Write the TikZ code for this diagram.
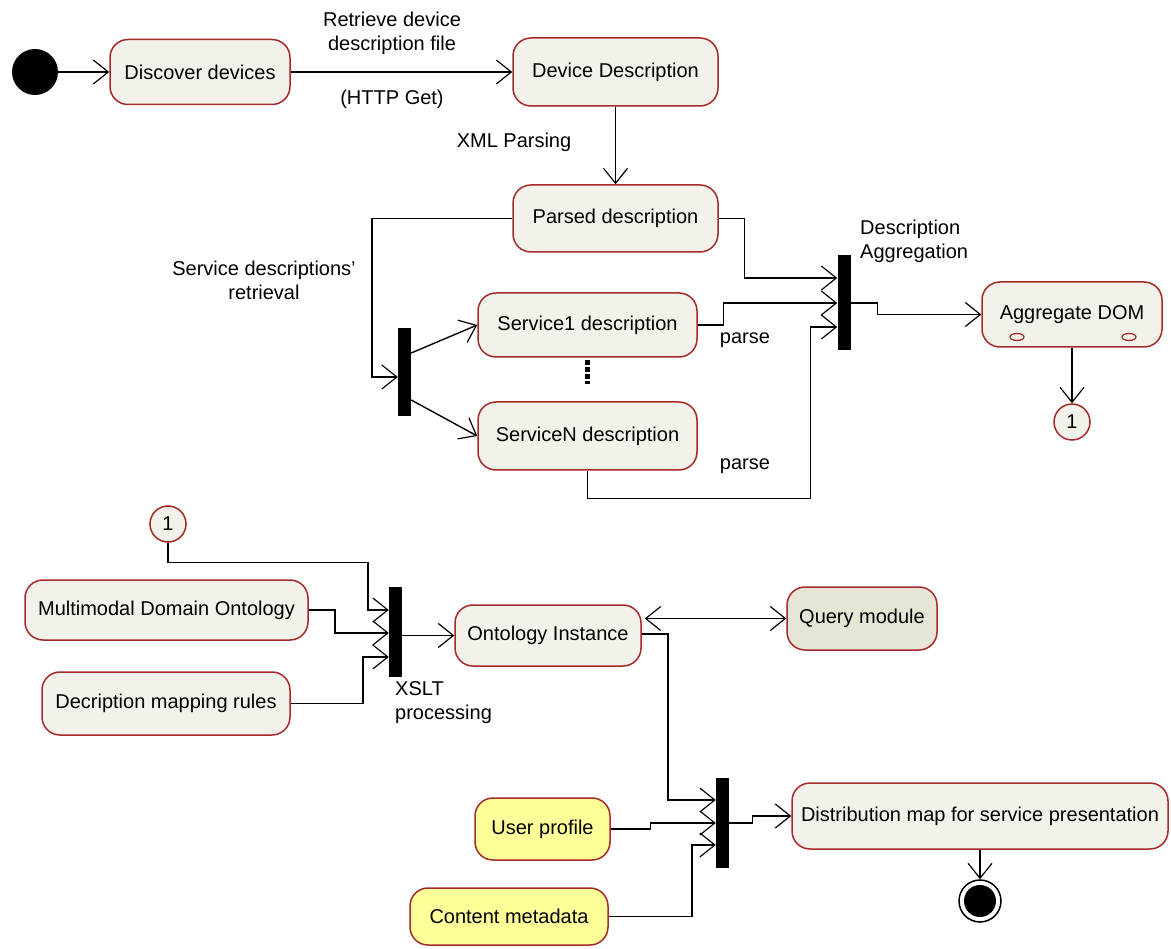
\documentclass[tikz,border=0pt]{standalone}
\usepackage{fontspec}
\setmainfont{Liberation Sans}
\usetikzlibrary{arrows.meta,calc}
\definecolor{boxfill}{HTML}{F3F2EA}
\definecolor{boxline}{HTML}{A52A2A}
\definecolor{qfill}{HTML}{E7E5D6}
\definecolor{yfill}{HTML}{FFFF99}
\begin{document}
\begin{tikzpicture}[x=1pt,y=-1pt,
  font=\fontsize{20}{24}\selectfont,
  state/.style={draw=boxline,fill=boxfill,line width=1.5pt,rounded corners=18pt,inner sep=0pt},
  ystate/.style={state,fill=yfill},
  qstate/.style={state,fill=qfill},
  barnode/.style={fill=black,draw=none,minimum width=13pt,inner sep=0pt},
  conn/.style={circle,draw=boxline,fill=boxfill,line width=1.5pt,minimum size=36pt,inner sep=0pt},
  arr/.style={line width=1.4pt,-{Straight Barb[length=15pt,width=24pt,line width=1.2pt]}},
  darr/.style={line width=1.4pt,{Straight Barb[length=15pt,width=24pt,line width=1.2pt]}-{Straight Barb[length=15pt,width=24pt,line width=1.2pt]}},
  lbl/.style={inner sep=0pt}]
\useasboundingbox (0,0) rectangle (1171,949);

% nodes
\node[circle,fill=black,minimum size=46pt,inner sep=0pt] (start) at (35,72) {};
\node[state,minimum width=180pt,minimum height=65pt] (disc) at (200,72) {Discover devices};
\node[state,minimum width=205pt,minimum height=68pt] (devdesc) at (615.5,72) {Device Description};
\node[state,minimum width=205pt,minimum height=67pt] (parsed) at (615.5,218.5) {Parsed description};
\node[state,minimum width=219pt,minimum height=64pt] (serv1) at (587.5,325) {Service1 description};
\node[state,minimum width=219pt,minimum height=68pt] (servN) at (587.5,436) {ServiceN description};
\node[state,minimum width=180pt,minimum height=65pt] (agg) at (1072,314.5) {Aggregate DOM};
\node[conn] (c1) at (1072,422) {1};
\node[barnode,minimum height=88pt] (bar1) at (404.5,372) {};
\node[barnode,minimum height=95pt] (bar2) at (844,302.5) {};

\node[conn] (c2) at (168,524) {1};
\node[state,minimum width=283pt,minimum height=60pt] (multi) at (166.5,610) {Multimodal Domain Ontology};
\node[state,minimum width=248pt,minimum height=63pt] (mapping) at (166,703.5) {Decription mapping rules};
\node[barnode,minimum height=90pt] (bar3) at (395.5,632) {};
\node[state,minimum width=186pt,minimum height=61pt] (onto) at (548,635.5) {Ontology Instance};
\node[qstate,minimum width=150pt,minimum height=63pt] (query) at (862,618.5) {Query module};
\node[barnode,minimum height=90pt] (bar4) at (722.5,823) {};
\node[state,minimum width=376pt,minimum height=66pt] (dist) at (980,816) {Distribution map for service presentation};
\node[ystate,minimum width=135pt,minimum height=62pt] (user) at (542.5,829) {User profile};
\node[ystate,minimum width=198pt,minimum height=57pt] (content) at (509,916.5) {Content metadata};
\node[circle,draw=black,fill=white,line width=1.5pt,minimum size=42pt,inner sep=0pt] (end) at (980,901) {};
\fill[black] (end.center) circle (16);

% small ovals in Aggregate DOM
\draw[boxline,fill=boxfill,line width=1.2pt] (1017,337) ellipse (7 and 3.5);
\draw[boxline,fill=boxfill,line width=1.2pt] (1129,337) ellipse (7 and 3.5);

% dotted mark between services
\draw[line width=5pt,dash pattern=on 5pt off 2pt] (587,360) -- (587,384);

% labels
\node[lbl,align=center] (l1) at (392,33) {Retrieve device\\description file};
\node[lbl] (l2) at (392,99) {(HTTP Get)};
\node[lbl] (l3) at (514,142) {XML Parsing};
\node[lbl,align=center] (l4) at (264,280) {Service descriptions'\\retrieval};
\node[lbl,align=left,anchor=west] (l5) at (860,241) {Description\\Aggregation};
\node[lbl] (l6) at (745,340) {parse};
\node[lbl] (l7) at (745,466) {parse};
\node[lbl,align=left,anchor=west] (l8) at (395,703) {XSLT\\processing};

% connectors
\draw[arr] (start.east) -- (disc.west);
\draw[arr] (disc.east) -- (devdesc.west);
\draw[arr] (devdesc.south) -- (parsed.north);
\draw[arr] (parsed.west) -| ($(bar1.west)+(-26,5)$) -- ($(bar1.west)+(0,5)$);
\draw[arr] ($(bar1.east)+(0,-19)$) -- (serv1.west);
\draw[arr] ($(bar1.east)+(0,28)$) -- (servN.west);
\draw[arr] (parsed.east) -| ($(bar2.west)+(-93,-24.5)$) -- ($(bar2.west)+(0,-24.5)$);
\draw[arr] (serv1.east) -- ++(26,0) |- ($(bar2.west)+(0,0.5)$);
\draw[arr] (servN.south) -- ++(0,28) -| ($(bar2.west)+(-27,24.5)$) -- ($(bar2.west)+(0,24.5)$);
\draw[arr] ($(bar2.east)+(0,0.5)$) -- ++(27,0) |- (agg.west);
\draw[arr] (agg.south) -- (c1.north);

\draw[arr] (c2.south) -- ++(0,20) -| ($(bar3.west)+(-21,-22)$) -- ($(bar3.west)+(0,-22)$);
\draw[arr] (multi.east) -| ($(bar3.west)+(-54,1)$) -- ($(bar3.west)+(0,1)$);
\draw[arr] (mapping.east) -| ($(bar3.west)+(-26,25)$) -- ($(bar3.west)+(0,25)$);
\draw[arr] (bar3.east |- onto.west) -- (onto.west);
\draw[darr] ($(onto.east |- query.west)+(3,0)$) -- (query.west);
\draw[arr] ($(onto.east)+(0,-1.5)$) -| ($(bar4.west)+(-48,-23)$) -- ($(bar4.west)+(0,-23)$);
\draw[arr] (user.east) -- ++(40,0) |- (bar4.west);
\draw[arr] (content.east) -| ($(bar4.west)+(-24,22)$) -- ($(bar4.west)+(0,22)$);
\draw[arr] (bar4.east) -- ++(23,0) |- (dist.west);
\draw[arr] (dist.south) -- (end.north);
\end{tikzpicture}
\end{document}
